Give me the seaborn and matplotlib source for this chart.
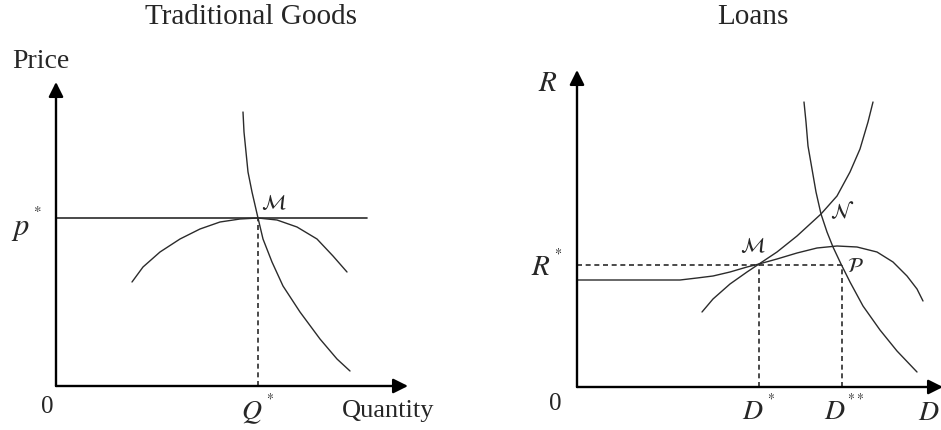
import numpy as np
import pandas as pd
import matplotlib
matplotlib.use("Agg")
import matplotlib.pyplot as plt
import seaborn as sns

# ---- Traditional goods market ----
p_star = 16.8
q_star = 20.2
price_line_end = 31.1

# steep (demand-like) curve through M
goods_steep_x = [18.7, 18.8, 19.0, 19.2, 19.6, 20.2, 20.7, 21.6, 22.7, 24.4, 26.4, 28.1, 29.4]
goods_steep_y = [27.4, 25.4, 23.4, 21.4, 19.4, 16.8, 14.7, 12.4, 10.0, 7.4, 4.7, 2.7, 1.5]

# concave curve tangent to p* at M
goods_hump_x = [7.6, 8.7, 10.4, 12.4, 14.4, 16.4, 18.4, 20.2, 22.1, 24.1, 26.1, 27.7, 29.1]
goods_hump_y = [10.4, 11.9, 13.4, 14.7, 15.7, 16.4, 16.7, 16.8, 16.6, 15.9, 14.7, 13.0, 11.4]

# ---- Loans market ----
r_star = 12.2
d_star = 18.2
d_star2 = 26.5

# flat segment then S-shaped curve
loan_s_x = [0.0, 10.3, 12.0, 13.6, 15.3, 17.0, 18.2, 20.0, 22.0, 24.0, 26.0,
            28.0, 30.0, 31.6, 33.0, 34.0, 34.6]
loan_s_y = [10.7, 10.7, 10.9, 11.1, 11.5, 12.0, 12.3, 12.8, 13.4, 13.9, 14.1,
            14.0, 13.5, 12.5, 11.1, 9.8, 8.6]

# convex rising curve through M and N
loan_rise_x = [12.5, 13.6, 15.3, 17.0, 18.2, 20.0, 22.0, 24.4, 26.0, 27.3, 28.3, 29.1, 29.6]
loan_rise_y = [7.5, 8.8, 10.3, 11.5, 12.3, 13.5, 15.1, 17.3, 19.1, 21.5, 23.8, 26.5, 28.5]

# steep falling curve through N and P
loan_fall_x = [22.7, 22.9, 23.1, 23.5, 23.9, 24.4, 25.0, 25.6, 26.4, 27.3, 28.6, 30.3, 32.0, 34.0]
loan_fall_y = [28.5, 26.5, 24.1, 21.8, 19.5, 17.3, 15.5, 14.0, 12.3, 10.5, 8.1, 5.7, 3.6, 1.5]

sns.set_style("white")
plt.rcParams["font.family"] = ["Liberation Serif", "DejaVu Serif"]
plt.rcParams["mathtext.fontset"] = "stix"

fig = plt.figure(figsize=(9.41, 4.31), dpi=100)
ax1 = fig.add_axes([0, 0, 470 / 941, 1])
ax2 = fig.add_axes([470 / 941, 0, 471 / 941, 1])

ax1.set_xlim(-5.6, 41.4)
ax1.set_ylim(-4.4, 38.7)
ax2.set_xlim(-10.7, 36.4)
ax2.set_ylim(-4.3, 38.8)

curve_col = "#2b2b2b"
curve_lw = 1.0
dash_kw = dict(color=curve_col, lw=1.2, linestyle=(0, (3.0, 2.2)))


def draw_curve(ax, xs, ys):
    df = pd.DataFrame({"x": xs, "y": ys})
    sns.lineplot(data=df, x="x", y="y", ax=ax, sort=False, estimator=None,
                 color=curve_col, lw=curve_lw)


def draw_axes_arrows(ax, xtip, ytip):
    arrow = dict(arrowstyle="-|>", lw=1.7, color="black", mutation_scale=22,
                 shrinkA=0, shrinkB=0)
    ax.annotate("", xy=(xtip, 0), xytext=(0, 0), arrowprops=arrow,
                annotation_clip=False)
    ax.annotate("", xy=(0, ytip), xytext=(0, 0), arrowprops=arrow,
                annotation_clip=False)


# Traditional goods panel
draw_axes_arrows(ax1, 35.2, 30.4)
sns.lineplot(x=[0, price_line_end], y=[p_star, p_star], ax=ax1,
             color=curve_col, lw=1.2)
ax1.plot([q_star, q_star], [0, p_star], **dash_kw)
draw_curve(ax1, goods_steep_x, goods_steep_y)
draw_curve(ax1, goods_hump_x, goods_hump_y)

ax1.text(19.5, 37.0, "Traditional Goods", ha="center", va="center", fontsize=21)
ax1.text(-1.5, 32.6, "Price", ha="center", va="center", fontsize=20)
ax1.text(-3.0, p_star - 0.5, r"$p^{^*}$", ha="center", va="center", fontsize=22)
ax1.text(-0.9, -2.0, "0", ha="center", va="center", fontsize=18)
ax1.text(q_star, -2.2, r"$Q^{^*}$", ha="center", va="center", fontsize=20)
ax1.text(33.2, -2.4, "Quantity", ha="center", va="center", fontsize=19)
ax1.text(21.8, 18.3, r"$\mathcal{M}$", ha="center", va="center", fontsize=15)

# Loans panel
draw_axes_arrows(ax2, 36.6, 31.7)
ax2.plot([0, d_star2], [r_star, r_star], **dash_kw)
ax2.plot([d_star, d_star], [0, r_star], **dash_kw)
ax2.plot([d_star2, d_star2], [0, r_star], **dash_kw)
draw_curve(ax2, loan_s_x, loan_s_y)
draw_curve(ax2, loan_rise_x, loan_rise_y)
draw_curve(ax2, loan_fall_x, loan_fall_y)

ax2.text(17.6, 37.1, "Loans", ha="center", va="center", fontsize=21)
ax2.text(-2.9, 30.4, r"$R$", ha="center", va="center", fontsize=21)
ax2.text(-3.0, r_star, r"$R^{^*}$", ha="center", va="center", fontsize=21)
ax2.text(-2.2, -1.6, "0", ha="center", va="center", fontsize=18)
ax2.text(d_star, -2.3, r"$D^{^*}$", ha="center", va="center", fontsize=20)
ax2.text(d_star2 + 0.2, -2.3, r"$D^{^{**}}$", ha="center", va="center", fontsize=20)
ax2.text(35.2, -2.6, r"$D$", ha="center", va="center", fontsize=20)
ax2.text(17.6, 14.1, r"$\mathcal{M}$", ha="center", va="center", fontsize=15)
ax2.text(26.5, 17.6, r"$\mathcal{N}$", ha="center", va="center", fontsize=15)
ax2.text(27.8, 12.0, r"$\mathcal{P}$", ha="center", va="center", fontsize=15)

for ax in (ax1, ax2):
    ax.set_axis_off()

fig.savefig("out.png", dpi=100, facecolor="white")
